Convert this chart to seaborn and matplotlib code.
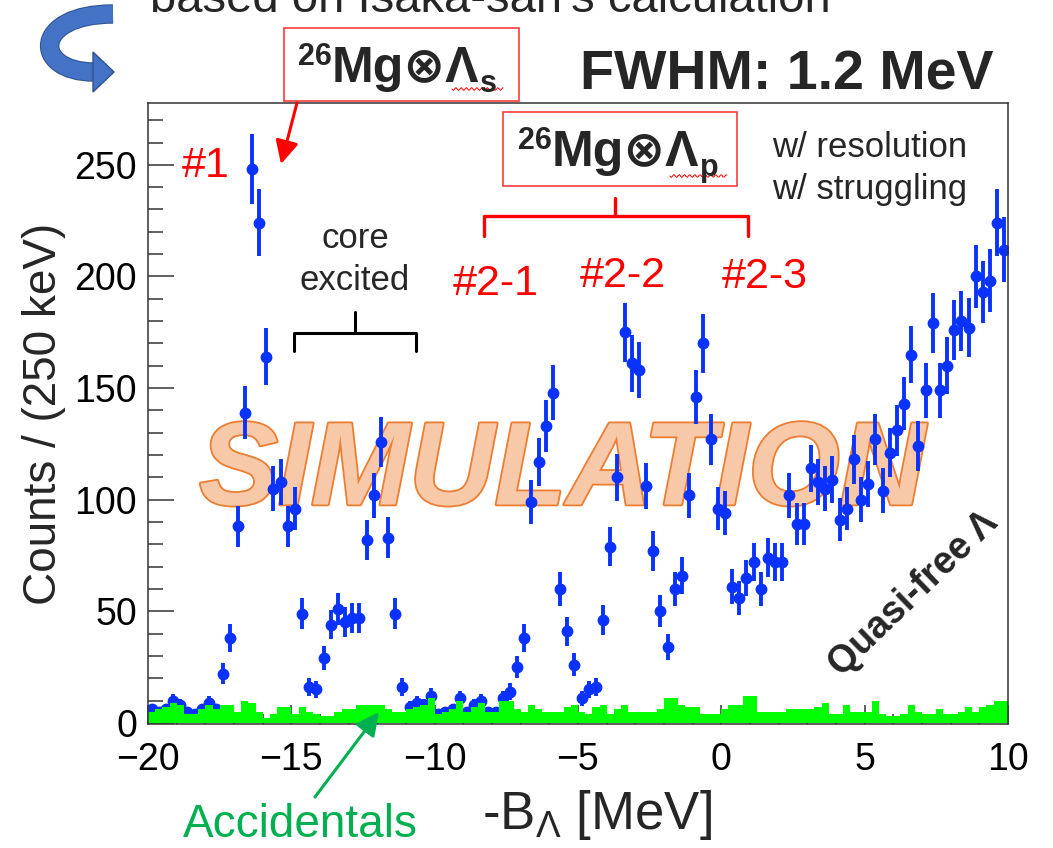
import numpy as np
import pandas as pd
import matplotlib
matplotlib.use("Agg")
import matplotlib.pyplot as plt
import matplotlib.patheffects as pe
from matplotlib.patches import FancyArrowPatch, Rectangle, PathPatch, Polygon
from matplotlib.path import Path
from matplotlib.text import Annotation
from matplotlib.transforms import Affine2D
from matplotlib.ticker import MultipleLocator
import seaborn as sns

# Binning of the -B_Lambda axis (MeV)
x_min, x_max, bin_width = -20.0, 10.0, 0.25

# Simulated counts per 250 keV bin
counts = [
    6, 5, 6, 10, 8, 5, 4, 6, 9, 6,
    22, 38, 88, 139, 248, 224, 164, 105, 108, 88,
    96, 49, 16, 15, 29, 44, 51, 45, 47, 47,
    82, 102, 126, 83, 49, 16, 7, 9, 8, 12,
    4, 5, 6, 11, 5, 8, 10, 5, 5, 11,
    14, 25, 38, 99, 117, 133, 148, 60, 41, 26,
    11, 15, 16, 46, 79, 110, 175, 161, 158, 106,
    77, 50, 34, 60, 66, 102, 146, 170, 127, 96,
    94, 61, 56, 65, 72, 60, 74, 72, 72, 102,
    89, 89, 114, 108, 105, 109, 91, 96, 118, 100,
    107, 127, 104, 121, 131, 143, 165, 124, 149, 179,
    149, 160, 176, 180, 177, 200, 193, 198, 224, 212,
]

# Accidental-coincidence background per bin
accidentals = [
    5, 6, 7, 9, 8, 4, 4, 6, 8, 6,
    8, 8, 5, 10, 9, 5, 2, 4, 7, 7,
    4, 7, 5, 4, 3, 3, 5, 6, 6, 8,
    8, 8, 8, 6, 5, 5, 6, 7, 8, 11,
    4, 5, 6, 10, 5, 7, 9, 5, 5, 10,
    10, 6, 5, 8, 6, 5, 5, 5, 7, 8,
    5, 4, 7, 8, 4, 6, 8, 5, 5, 5,
    5, 6, 11, 11, 8, 7, 7, 4, 4, 4,
    6, 8, 8, 12, 12, 5, 5, 5, 5, 6,
    6, 6, 6, 7, 9, 4, 4, 8, 5, 5,
    5, 10, 4, 3, 3, 4, 8, 5, 4, 4,
    6, 4, 4, 5, 7, 5, 7, 8, 10, 10,
]

x_ticks = [-20, -15, -10, -5, 0, 5, 10]
y_ticks = [0, 50, 100, 150, 200, 250]

n_bins = len(counts)
centers = x_min + bin_width * (np.arange(n_bins) + 0.5)
df = pd.DataFrame({"x": centers, "counts": counts, "acc": accidentals})
df["err"] = np.sqrt(df["counts"])

sns.set_theme(style="white")
plt.rcParams["font.family"] = ["Liberation Sans", "DejaVu Sans"]
plt.rcParams["mathtext.fontset"] = "custom"
plt.rcParams["mathtext.rm"] = "Liberation Sans"
plt.rcParams["mathtext.it"] = "Liberation Sans:italic"
plt.rcParams["mathtext.bf"] = "Liberation Sans:bold"

W, H = 1053, 848
fig = plt.figure(figsize=(W / 100, H / 100), dpi=100)
fig.patch.set_facecolor("white")
# pixel coordinates, origin at top-left
pix = Affine2D().scale(1 / W, -1 / H).translate(0, 1) + fig.transFigure

L, R, T, B = 148, 1008, 103, 724
ax = fig.add_axes([L / W, 1 - B / H, (R - L) / W, (B - T) / H])
ax.set_facecolor("white")

BLUE = "#0a32ff"
RED = "#ff0000"
GREEN_TXT = "#00b050"

# measured spectrum
ax.errorbar(df["x"], df["counts"], yerr=df["err"], fmt="o", color=BLUE,
            ms=7.5, elinewidth=2.8, capsize=0, zorder=3)

# accidental background, filled step histogram
n_before = len(ax.collections)
sns.histplot(data=df, x="x", weights="acc", binwidth=bin_width,
             binrange=(x_min, x_max), element="step", fill=True,
             color="#00ff00", alpha=1.0, linewidth=0, ax=ax)
for art in ax.collections[n_before:]:
    art.set_zorder(4)

ax.set_xlim(x_min, x_max)
ax.set_ylim(-0.5, 277.7)
ax.set_xticks(x_ticks)
ax.set_yticks(y_ticks)
ax.xaxis.set_minor_locator(MultipleLocator(1))
ax.yaxis.set_minor_locator(MultipleLocator(10))
ax.tick_params(axis="both", which="both", direction="in", colors="#333333",
               labelcolor="black", width=1.1, top=False, right=False,
               bottom=True, left=True)
ax.tick_params(axis="y", which="major", length=19, labelsize=27, pad=8)
ax.tick_params(axis="y", which="minor", length=11)
ax.tick_params(axis="x", which="major", length=14, labelsize=27, pad=13)
ax.tick_params(axis="x", which="minor", length=7)
for sp in ax.spines.values():
    sp.set_visible(True)
    sp.set_color("#333333")
    sp.set_linewidth(1.1)
    sp.set_zorder(6)

ax.set_ylabel("Counts / (250 keV)", fontsize=33)
ax.yaxis.label.set_va("center")
ax.yaxis.set_label_coords((44 - L) / (R - L), 0.5)
ax.set_xlabel(r"-B$_{\Lambda}$ [MeV]", fontsize=38)
ax.xaxis.label.set_va("top")
ax.xaxis.set_label_coords((597 - L) / (R - L), -(788 - B) / (B - T))

# watermark behind the data points
ax.text(562, 474, "SIMULATION", transform=pix, fontsize=85, fontweight="bold",
        fontstyle="italic", color="#f7c9a8", ha="center", va="center",
        zorder=2, clip_on=False,
        path_effects=[pe.Stroke(linewidth=2.6, foreground="#ed7d31"), pe.Normal()])


def ptext(px, py, s, **kw):
    return fig.text(px, py, s, transform=pix, **kw)


def pline(xs, ys, **kw):
    ln = plt.Line2D(xs, ys, transform=pix, **kw)
    fig.add_artist(ln)
    return ln


def after(prev, s, dx, dy, **kw):
    """Place a text just to the right of an existing text (offsets in points)."""
    a = Annotation(s, xy=(1, 0), xycoords=prev, xytext=(dx, dy),
                   textcoords="offset points", ha="left", va="baseline", **kw)
    fig.add_artist(a)
    return a


# header text, cut by the top edge
ptext(150, 12, "based on Isaka-san's calculation", fontsize=34,
      ha="left", va="baseline")
ptext(580, 89, "FWHM: 1.2 MeV", fontsize=40, fontweight="bold",
      ha="left", va="baseline")

# curved ribbon arrow on the left
ribbon = Path([(113, 14), (32, 14), (32, 72), (94, 72)],
              [Path.MOVETO, Path.CURVE4, Path.CURVE4, Path.CURVE4])
fig.add_artist(PathPatch(ribbon, transform=pix, fill=False,
                         edgecolor="#4472c4", lw=12.5, capstyle="butt",
                         path_effects=[pe.Stroke(linewidth=14, foreground="#2f528f"),
                                       pe.Normal()]))
fig.add_artist(Polygon([(93, 52), (114, 72), (93, 92)], closed=True,
                       transform=pix, facecolor="#4472c4",
                       edgecolor="#2f528f", lw=1))


def state_label(x_left, base, sub):
    ptext(x_left, base - 17, "26", fontsize=22, fontweight="bold",
          ha="right", va="baseline")
    main = ptext(x_left, base, "Mg⊗Λ", fontsize=36, fontweight="bold",
                 ha="left", va="baseline")
    after(main, sub, 0.5, 0, fontsize=22, fontweight="bold")
    return main


# boxed state labels
fig.add_artist(Rectangle((284, 28), 235, 73, transform=pix, fill=True,
                         facecolor="white", edgecolor="#ff3b3b", lw=1.2))
state_label(332, 82, "s")
fig.add_artist(Rectangle((503, 112), 234, 74, transform=pix, fill=True,
                         facecolor="white", edgecolor="#ff3b3b", lw=1.2))
state_label(552, 166, "p")

# spell-check style squiggles under the Lambda subscripts
sq_x1 = np.linspace(452, 503, 40)
pline(sq_x1, 89 + 1.4 * np.sin((sq_x1 - 452) * 1.2), color=RED, lw=0.7)
sq_x2 = np.linspace(670, 727, 44)
pline(sq_x2, 176 + 1.4 * np.sin((sq_x2 - 670) * 1.2), color=RED, lw=0.7)

# arrow from the s-state box to peak #1
fig.add_artist(FancyArrowPatch((297, 103), (281, 164), transform=pix,
                               arrowstyle="-|>,head_length=0.7,head_width=0.35",
                               mutation_scale=20, color=RED, lw=2.2,
                               shrinkA=0, shrinkB=0))

# peak labels
ptext(206, 166, "#1", fontsize=31, color=RED, ha="center", va="center")
ptext(496, 284, "#2-1", fontsize=31, color=RED, ha="center", va="center")
ptext(623, 276, "#2-2", fontsize=31, color=RED, ha="center", va="center")
ptext(765, 277, "#2-3", fontsize=31, color=RED, ha="center", va="center")

# bracket over the p-state peaks
pline([484, 484, 748, 748], [236, 216, 216, 236], color=RED, lw=2.4,
      solid_joinstyle="round", solid_capstyle="round")
pline([615, 615], [216, 198], color=RED, lw=2.4, solid_capstyle="round")

# core-excited group
ptext(355, 239, "core", fontsize=25, ha="center", va="center")
ptext(355, 281, "excited", fontsize=25, ha="center", va="center")
pline([294, 294, 416, 416], [351, 333, 333, 351], color="black", lw=2.2,
      solid_joinstyle="round", solid_capstyle="round")
pline([355, 355], [333, 312], color="black", lw=2.2, solid_capstyle="round")

# simulation conditions
ptext(772, 157, "w/ resolution", fontsize=25, ha="left", va="baseline")
ptext(772, 199, "w/ struggling", fontsize=25, ha="left", va="baseline")

# quasi-free region
ptext(913, 594, "Quasi-free Λ", fontsize=27, fontweight="bold",
      rotation=44, ha="center", va="center", rotation_mode="anchor")

# accidentals label and arrow
ptext(183, 837, "Accidentals", fontsize=33, color=GREEN_TXT, ha="left",
      va="baseline")
fig.add_artist(FancyArrowPatch((315, 797), (379, 712), transform=pix,
                               arrowstyle="-|>,head_length=0.7,head_width=0.35",
                               mutation_scale=20, color=GREEN_TXT, lw=2.2,
                               shrinkA=0, shrinkB=0, zorder=7))

fig.savefig("out.png", dpi=100, facecolor="white")
